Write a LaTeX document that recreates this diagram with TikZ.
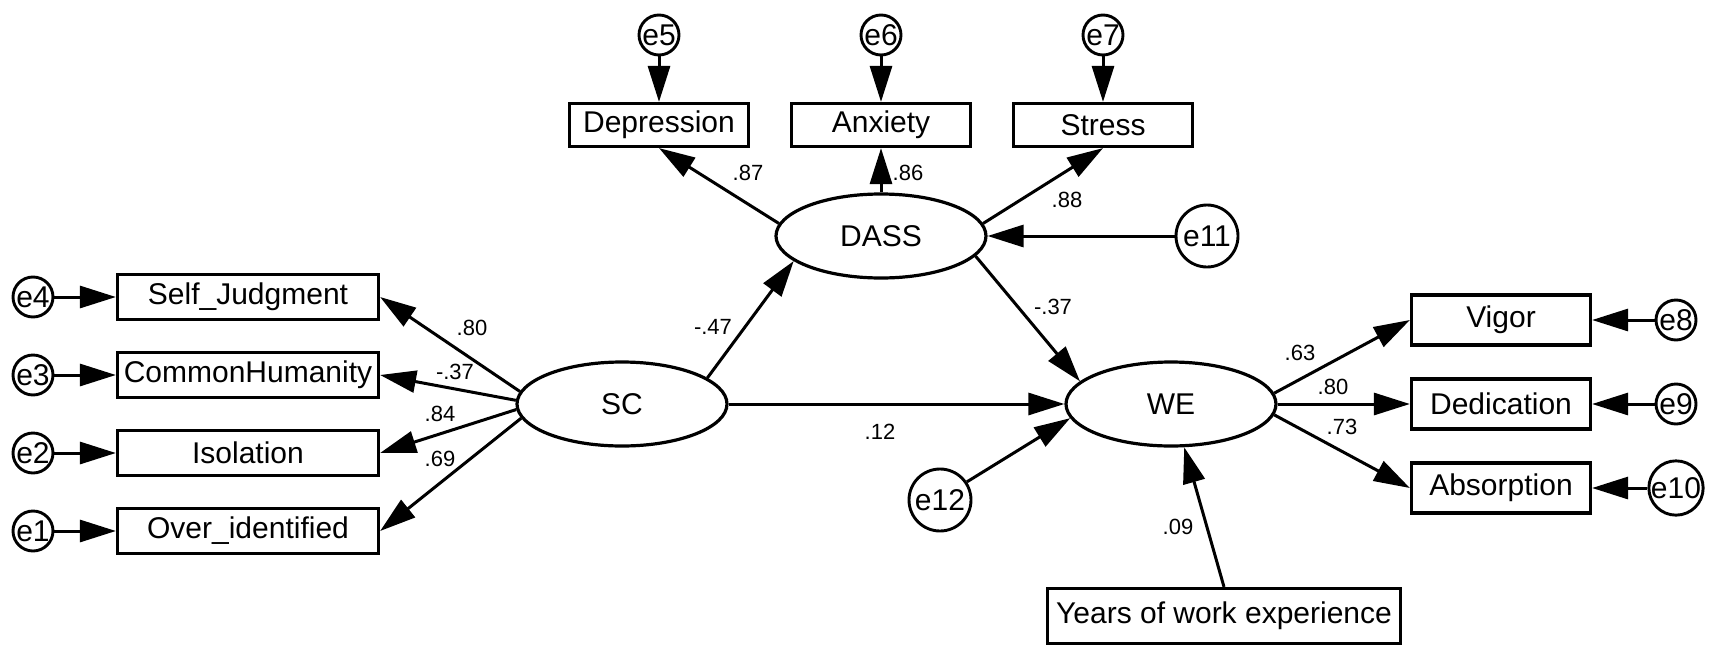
\documentclass[tikz,border=0pt]{standalone}
\usepackage{fontspec}
\setmainfont{Liberation Sans}
\usetikzlibrary{arrows.meta,shapes.geometric}
\begin{document}
\begin{tikzpicture}[x=1pt,y=-1pt,
  obs/.style={draw, line width=3.2pt, inner sep=0pt, font=\fontsize{30}{30}\selectfont},
  lat/.style={draw, ellipse, line width=3.2pt, minimum width=210pt, minimum height=84pt, inner sep=0pt, font=\fontsize{30}{30}\selectfont},
  err/.style={draw, circle, line width=2.9pt, minimum size=40pt, inner sep=0pt, font=\fontsize{30}{30}\selectfont},
  bigerr/.style={err, minimum size=62pt},
  arr/.style={line width=3pt, -{Triangle[length=36pt,width=22pt]}},
  lab/.style={inner sep=0pt, font=\fontsize{22}{22}\selectfont},
  lbox/.style={obs, minimum width=261pt, minimum height=45pt},
  tbox/.style={obs, minimum width=179pt, minimum height=43pt},
  rbox/.style={obs, minimum width=179pt, minimum height=50pt}
]
\fill[white] (0,0) rectangle (1713,659);
\useasboundingbox (0,0) rectangle (1713,659);

% latent variables
\node[lat] (SC) at (622,404) {SC};
\node[lat] (DASS) at (881,236) {DASS};
\node[lat] (WE) at (1171,404) {WE};

% left indicators
\node[lbox] (SJ) at (248,297) {Self\_Judgment};
\node[lbox] (CH) at (248,375) {CommonHumanity};
\node[lbox] (IS) at (248,453) {Isolation};
\node[lbox] (OI) at (248,531) {Over\_identified};
\node[err] (e4) at (33,297) {e4};
\node[err] (e3) at (33,375) {e3};
\node[err] (e2) at (33,453) {e2};
\node[err] (e1) at (33,531) {e1};

% top indicators
\node[tbox] (Dep) at (659,125) {Depression};
\node[tbox] (Anx) at (881,125) {Anxiety};
\node[tbox] (Str) at (1103,125) {Stress};
\node[err] (e5) at (659,35) {e5};
\node[err] (e6) at (881,35) {e6};
\node[err] (e7) at (1103,35) {e7};

% right indicators
\node[rbox] (Vig) at (1501,320) {Vigor};
\node[rbox] (Ded) at (1501,404) {Dedication};
\node[rbox] (Abs) at (1501,488) {Absorption};
\node[err] (e8) at (1676,320) {e8};
\node[err] (e9) at (1676,404) {e9};
\node[err] (e10) at (1676,488) {e10};

% others
\node[bigerr] (e11) at (1207,236) {e11};
\node[bigerr] (e12) at (940,500) {e12};
\node[obs, minimum width=353pt, minimum height=55pt] (Yrs) at (1224,616) {Years of work experience};

% error arrows
\draw[arr] (e4) -- (SJ);
\draw[arr] (e3) -- (CH);
\draw[arr] (e2) -- (IS);
\draw[arr] (e1) -- (OI);
\draw[arr] (e5) -- (Dep);
\draw[arr] (e6) -- (Anx);
\draw[arr] (e7) -- (Str);
\draw[arr] (e8) -- (Vig);
\draw[arr] (e9) -- (Ded);
\draw[arr] (e10) -- (Abs);
\draw[arr] (e11) -- (DASS);
\draw[arr] (e12.34) -- (WE.188);

% loadings
\draw[arr] (SC.173) -- (SJ.east);
\draw[arr] (SC.178) -- (CH.east);
\draw[arr] (SC.183) -- (IS.east);
\draw[arr] (SC.188) -- (OI.east);
\draw[arr] (DASS.173) -- (Dep.south);
\draw[arr] (DASS.north) -- (Anx.south);
\draw[arr] (DASS.7) -- (Str.south);
\draw[arr] (WE.6) -- (Vig.west);
\draw[arr] (WE.east) -- (Ded.west);
\draw[arr] (WE.354) -- (Abs.west);

% structural paths
\draw[arr] (SC.17) -- (DASS.196);
\draw[arr] (DASS.348) -- (WE.166);
\draw[arr] (SC.east) -- (WE.west);
\draw[arr] (Yrs.north) -- (WE.287);

% labels
\node[lab] at (748,173) {.87};
\node[lab] at (908,173) {.86};
\node[lab] at (1067,200) {.88};
\node[lab] at (472,328) {.80};
\node[lab] at (455,372) {-.37};
\node[lab] at (440,414) {.84};
\node[lab] at (440,459) {.69};
\node[lab] at (713,327) {-.47};
\node[lab] at (1053,307) {-.37};
\node[lab] at (880,432) {.12};
\node[lab] at (1300,353) {.63};
\node[lab] at (1333,387) {.80};
\node[lab] at (1342,427) {.73};
\node[lab] at (1178,527) {.09};
\end{tikzpicture}
\end{document}
